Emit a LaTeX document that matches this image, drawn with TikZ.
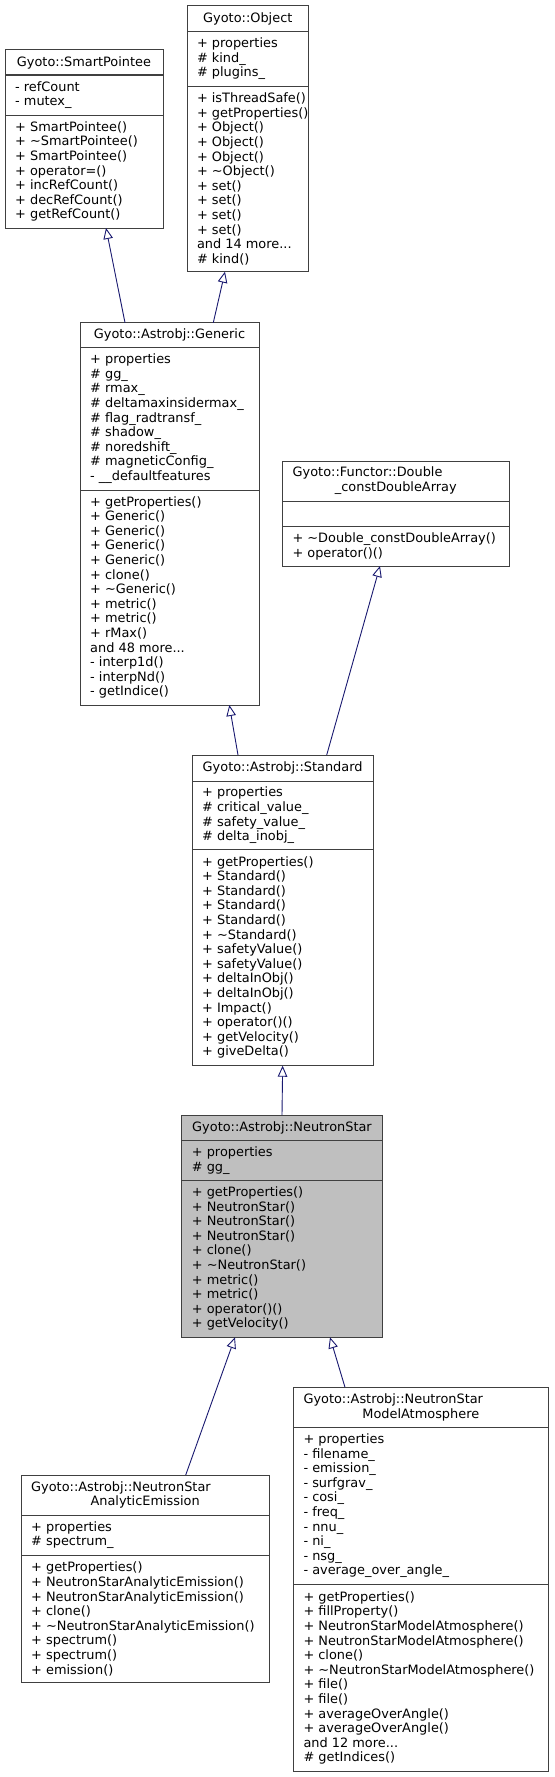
\documentclass[tikz,border=0pt]{standalone}
\usepackage{fontspec}
\setmainfont{DejaVu Sans}
\usetikzlibrary{arrows.meta}
\definecolor{bordercol}{HTML}{404040}
\definecolor{edgecol}{HTML}{191970}
\definecolor{nsfill}{HTML}{BFBFBF}
\newcommand\memfont{\fontsize{12.9}{14.6}\selectfont}
\tikzset{
  classbox/.style={draw=bordercol, line width=1pt, inner sep=0pt, outer sep=0pt, anchor=north west, fill=white},
  sepline/.style={draw=bordercol, line width=1pt},
  memb/.style={anchor=west, align=left, inner sep=0pt, font=\memfont},
  ttl/.style={anchor=center, align=center, inner sep=0pt, font=\memfont},
  ttlleft/.style={anchor=west, inner sep=0pt, font=\memfont},
  inh/.style={draw=edgecol, line width=0.9pt, -{Triangle[open, length=11pt, width=9.5pt]}},
}
\begin{document}
\begin{tikzpicture}[x=1pt,y=-1pt]
\fill[white] (0,0) rectangle (554,1777);
\useasboundingbox (0,0) rectangle (554,1777);

% ---------- SmartPointee
\node[classbox, minimum width=158pt, minimum height=178pt] (smart) at (5,50) {};
\draw[sepline] (smart.west |- 0,75) -- (smart.east |- 0,75);
\draw[sepline] (smart.west |- 0,115) -- (smart.east |- 0,115);
\node[ttl] (smart-t) at (84,62.5) {Gyoto::SmartPointee};
\node[memb] (smart-a) at (15,95) {- refCount\\- mutex\_};
\node[memb] (smart-m) at (15,171.5) {+ SmartPointee()\\+ \textasciitilde SmartPointee()\\+ SmartPointee()\\+ operator=()\\+ incRefCount()\\+ decRefCount()\\+ getRefCount()};

% ---------- Object
\node[classbox, minimum width=121pt, minimum height=265.7pt] (object) at (187.3,6) {};
\draw[sepline] (object.west |- 0,31.7) -- (object.east |- 0,31.7);
\draw[sepline] (object.west |- 0,86) -- (object.east |- 0,86);
\node[ttl] (object-t) at (247.8,18.85) {Gyoto::Object};
\node[memb] (object-a) at (196.8,58.85) {+ properties\\\# kind\_\\\# plugins\_};
\node[memb] (object-m) at (196.8,178.85) {+ isThreadSafe()\\+ getProperties()\\+ Object()\\+ Object()\\+ Object()\\+ \textasciitilde Object()\\+ set()\\+ set()\\+ set()\\+ set()\\and 14 more...\\\# kind()};

% ---------- Generic
\node[classbox, minimum width=179pt, minimum height=382.3pt] (generic) at (80,322.7) {};
\draw[sepline] (generic.west |- 0,347.3) -- (generic.east |- 0,347.3);
\draw[sepline] (generic.west |- 0,490) -- (generic.east |- 0,490);
\node[ttl] (generic-t) at (169.5,335) {Gyoto::Astrobj::Generic};
\node[memb] (generic-a) at (90,418.65) {+ properties\\\# gg\_\\\# rmax\_\\\# deltamaxinsidermax\_\\\# flag\_radtransf\_\\\# shadow\_\\\# noredshift\_\\\# magneticConfig\_\\- \_\_defaultfeatures};
\node[memb] (generic-m) at (90,597.5) {+ getProperties()\\+ Generic()\\+ Generic()\\+ Generic()\\+ Generic()\\+ clone()\\+ \textasciitilde Generic()\\+ metric()\\+ metric()\\+ rMax()\\and 48 more...\\- interp1d()\\- interpNd()\\- getIndice()};

% ---------- Double_constDoubleArray
\node[classbox, minimum width=227pt, minimum height=104.3pt] (double) at (282.3,461.7) {};
\draw[sepline] (double.west |- 0,501) -- (double.east |- 0,501);
\draw[sepline] (double.west |- 0,526.7) -- (double.east |- 0,526.7);
\node[ttlleft] (double-t1) at (292.5,473.3) {Gyoto::Functor::Double};
\node[ttl] (double-t2) at (395.8,487.9) {\_constDoubleArray};
\node[memb] (double-m) at (292.3,546.35) {+ \textasciitilde Double\_constDoubleArray()\\+ operator()()};

% ---------- Standard
\node[classbox, minimum width=181.3pt, minimum height=310.7pt] (standard) at (192,755) {};
\draw[sepline] (standard.west |- 0,781.7) -- (standard.east |- 0,781.7);
\draw[sepline] (standard.west |- 0,849.3) -- (standard.east |- 0,849.3);
\node[ttl] (standard-t) at (282.65,768.35) {Gyoto::Astrobj::Standard};
\node[memb] (standard-a) at (202,815.5) {+ properties\\\# critical\_value\_\\\# safety\_value\_\\\# delta\_inobj\_};
\node[memb] (standard-m) at (202,957.5) {+ getProperties()\\+ Standard()\\+ Standard()\\+ Standard()\\+ Standard()\\+ \textasciitilde Standard()\\+ safetyValue()\\+ safetyValue()\\+ deltaInObj()\\+ deltaInObj()\\+ Impact()\\+ operator()()\\+ getVelocity()\\+ giveDelta()};

% ---------- NeutronStar
\node[classbox, fill=nsfill, minimum width=200.6pt, minimum height=222.3pt] (ns) at (181.7,1115) {};
\draw[sepline] (ns.west |- 0,1140.7) -- (ns.east |- 0,1140.7);
\draw[sepline] (ns.west |- 0,1180) -- (ns.east |- 0,1180);
\node[ttl] (ns-t) at (282,1127.85) {Gyoto::Astrobj::NeutronStar};
\node[memb] (ns-a) at (191.7,1160.35) {+ properties\\\# gg\_};
\node[memb] (ns-m) at (191.7,1258.65) {+ getProperties()\\+ NeutronStar()\\+ NeutronStar()\\+ NeutronStar()\\+ clone()\\+ \textasciitilde NeutronStar()\\+ metric()\\+ metric()\\+ operator()()\\+ getVelocity()};

% ---------- NeutronStarAnalyticEmission
\node[classbox, minimum width=248.3pt, minimum height=207.7pt] (ae) at (21,1475) {};
\draw[sepline] (ae.west |- 0,1515) -- (ae.east |- 0,1515);
\draw[sepline] (ae.west |- 0,1555) -- (ae.east |- 0,1555);
\node[ttlleft] (ae-t1) at (31,1487.7) {Gyoto::Astrobj::NeutronStar};
\node[ttl] (ae-t2) at (145.15,1502.3) {AnalyticEmission};
\node[memb] (ae-a) at (31,1535) {+ properties\\\# spectrum\_};
\node[memb] (ae-m) at (31,1618.85) {+ getProperties()\\+ NeutronStarAnalyticEmission()\\+ NeutronStarAnalyticEmission()\\+ clone()\\+ \textasciitilde NeutronStarAnalyticEmission()\\+ spectrum()\\+ spectrum()\\+ emission()};

% ---------- NeutronStarModelAtmosphere
\node[classbox, minimum width=255pt, minimum height=384.4pt] (ma) at (293.3,1387.3) {};
\draw[sepline] (ma.west |- 0,1427.3) -- (ma.east |- 0,1427.3);
\draw[sepline] (ma.west |- 0,1584.3) -- (ma.east |- 0,1584.3);
\node[ttlleft] (ma-t1) at (303.3,1400) {Gyoto::Astrobj::NeutronStar};
\node[ttl] (ma-t2) at (420.8,1414.6) {ModelAtmosphere};
\node[memb] (ma-a) at (303.3,1505.8) {+ properties\\- filename\_\\- emission\_\\- surfgrav\_\\- cosi\_\\- freq\_\\- nnu\_\\- ni\_\\- nsg\_\\- average\_over\_angle\_};
\node[memb] (ma-m) at (303.3,1678) {+ getProperties()\\+ fillProperty()\\+ NeutronStarModelAtmosphere()\\+ NeutronStarModelAtmosphere()\\+ clone()\\+ \textasciitilde NeutronStarModelAtmosphere()\\+ file()\\+ file()\\+ averageOverAngle()\\+ averageOverAngle()\\and 12 more...\\\# getIndices()};

% ---------- inheritance edges
\draw[inh] ([xshift=-44.5pt]generic.north) -- ([xshift=22pt]smart.south);
\draw[inh] ([xshift=43.8pt]generic.north) -- ([xshift=-22.8pt]object.south);
\draw[inh] ([xshift=-44.65pt]standard.north) -- ([xshift=59.8pt]generic.south);
\draw[inh] ([xshift=44.05pt]standard.north) -- ([xshift=-15.8pt]double.south);
\draw[inh] (ns.north) -- (standard.south);
\draw[inh] ([xshift=40.55pt]ae.north) -- ([xshift=-47pt]ns.south);
\draw[inh] ([xshift=-75.8pt]ma.north) -- ([xshift=48pt]ns.south);
\end{tikzpicture}
\end{document}
